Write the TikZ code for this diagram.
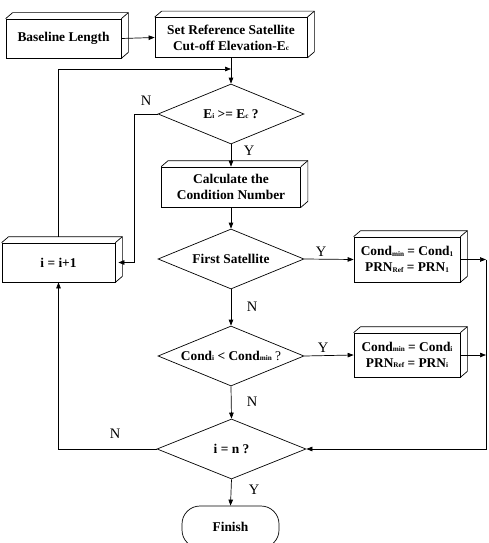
\documentclass[tikz,border=0pt]{standalone}
\usepackage{fontspec}
\setmainfont{Liberation Serif}
\usetikzlibrary{shapes.geometric,arrows.meta,calc}
\newcommand\sbs[1]{\raisebox{-0.3pt}{\fontsize{7.2}{8}\selectfont #1}}
\newcommand\boxfont{\fontsize{13.4}{16}\selectfont\bfseries}
\newcommand\drawdepth[1]{\draw[line] (#1.north west) -- ++(7pt,6pt) -| ([shift={(7pt,6pt)}]#1.south east) -- (#1.south east); \draw[line] (#1.north east) -- ++(7pt,6pt);}
\tikzset{
  line/.style={line width=0.7pt},
  arr/.style={line, -{Triangle[length=6pt,width=4.5pt]}},
  box/.style={draw, line, fill=white, align=center, inner sep=0pt, font=\boxfont},
  dec/.style={diamond, draw, line, aspect=2.43, minimum width=146pt, minimum height=60pt, inner sep=0pt, font=\boxfont},
  lab/.style={font=\fontsize{14.5}{14.5}\selectfont}
}
\begin{document}
\begin{tikzpicture}[x=1pt,y=-1pt]
\useasboundingbox (0,0) rectangle (489,543);
\node[box, minimum width=115pt, minimum height=39pt] (base) at (63.5,38.5) {Baseline Length};
\node[box, minimum width=152pt, minimum height=40pt] (setref) at (231,37.5) {Set Reference Satellite\\Cut-off Elevation-E\sbs{c}};
\node[dec] (d1) at (231,114) {E\sbs{i} >= E\sbs{c} ?};
\node[box, minimum width=139pt, minimum height=40pt] (calc) at (231,187) {Calculate the\\Condition Number};
\node[dec] (d2) at (231,259) {First Satellite};
\node[box, minimum width=106pt, minimum height=45pt] (cb1) at (407,259.5) {Cond\sbs{min} = Cond\sbs{1}\\PRN\sbs{Ref} = PRN\sbs{1}};
\node[box, minimum width=113pt, minimum height=39pt] (inc) at (58.5,262.5) {i = i+1};
\node[dec] (d3) at (231,356) {Cond\sbs{i} < Cond\sbs{min} {\mdseries ?}};
\node[box, minimum width=106pt, minimum height=44pt] (cb2) at (407,355) {Cond\sbs{min} = Cond\sbs{i}\\PRN\sbs{Ref} = PRN\sbs{i}};
\node[dec, minimum width=149pt] (d4) at (231.5,449) {i = n ?};
\node[box, rounded corners=18pt, minimum width=97pt, minimum height=42pt] (fin) at (230.5,527) {Finish};
\drawdepth{base}
\drawdepth{setref}
\drawdepth{calc}
\drawdepth{cb1}
\drawdepth{cb2}
\drawdepth{inc}
\coordinate (j1) at (231,69);
\coordinate (n1) at (134,262.5);
\coordinate (r1) at (486,259.5);
\coordinate (r2) at (486,355);
\draw[arr] (base.east) -- (setref.west);
\draw[arr] (setref.south) -- (d1.north);
\draw[arr] ([yshift=6pt]inc.north) |- (j1);
\draw[arr] (d1.west) -| (n1) -- ([xshift=3pt]inc.east);
\draw[arr] (d1.south) -- (calc.north);
\draw[arr] (calc.south) -- (d2.north);
\draw[arr] (d2.east) -- (cb1.west);
\draw[arr] (cb1.east) -- (r1);
\draw[arr] (cb2.east) -- (r2);
\draw[arr] (r1) |- (d4.east);
\draw[arr] (d2.south) -- (d3.north);
\draw[arr] (d3.east) -- (cb2.west);
\draw[arr] (d3.south) -- (d4.north);
\draw[arr] (d4.west) -| (inc.south);
\draw[arr] (d4.south) -- (fin.north);
\node[lab] (l1) at (146,101) {N};
\node[lab] (l2) at (249,151) {Y};
\node[lab] (l3) at (321,252) {Y};
\node[lab] (l4) at (252,307) {N};
\node[lab] (l5) at (323,348) {Y};
\node[lab] (l6) at (252,402) {N};
\node[lab] (l7) at (115,434) {N};
\node[lab] (l8) at (254,490) {Y};
\end{tikzpicture}
\end{document}
